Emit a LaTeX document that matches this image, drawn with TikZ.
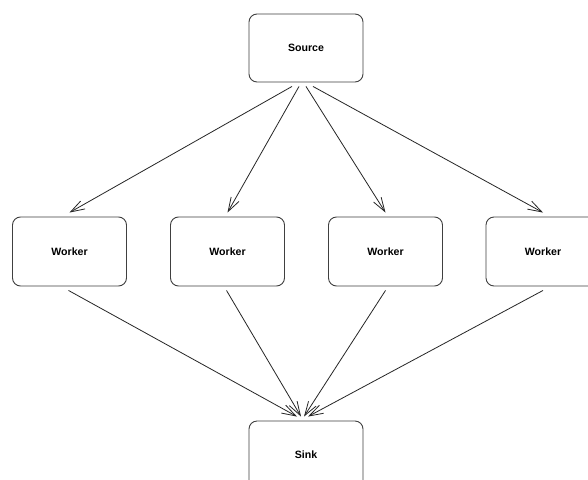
\documentclass[tikz,border=0pt]{standalone}
\usepackage{fontspec}
\setmainfont{Liberation Sans}
\usetikzlibrary{arrows.meta}
\begin{document}
\begin{tikzpicture}[x=1pt,y=-1pt,
  box/.style={draw=black!75, line width=0.9pt, rounded corners=8pt, minimum width=114pt, minimum height=68pt, inner sep=0pt, font=\fontsize{10.6}{12}\selectfont\bfseries},
  edge/.style={draw=black!85, line width=0.8pt, -{Straight Barb[length=14pt,width=9pt,line width=0.8pt]}}]
\clip (0,0) rectangle (588,479);
\fill[white] (0,0) rectangle (588,479);
\node[box] (src) at (306,48) {\raisebox{-1.5pt}{Source}};
\node[box, minimum height=69pt] (w1) at (69.5,251.5) {\raisebox{-1.5pt}{Worker}};
\node[box, minimum height=69pt] (w2) at (227.5,251.5) {\raisebox{-1.5pt}{Worker}};
\node[box, minimum height=69pt] (w3) at (385.5,251.5) {\raisebox{-1.5pt}{Worker}};
\node[box, minimum height=69pt] (w4) at (543,251.5) {\raisebox{-1.5pt}{Worker}};
\node[box] (sink) at (306,455) {\raisebox{-1.5pt}{Sink}};
\draw[edge] ([xshift=-14pt,yshift=-4pt]src.south) -- ([yshift=4pt]w1.north);
\draw[edge] ([xshift=-7pt,yshift=-4pt]src.south) -- ([yshift=4pt]w2.north);
\draw[edge] ([xshift=0pt,yshift=-4pt]src.south) -- ([yshift=4pt]w3.north);
\draw[edge] ([xshift=7pt,yshift=-4pt]src.south) -- ([yshift=4pt]w4.north);
\draw[edge] ([xshift=-1pt,yshift=-4pt]w1.south) -- ([xshift=-9pt,yshift=4pt]sink.north);
\draw[edge] ([xshift=-1pt,yshift=-4pt]w2.south) -- ([xshift=-5pt,yshift=4pt]sink.north);
\draw[edge] ([xshift=0pt,yshift=-4pt]w3.south) -- ([xshift=-2pt,yshift=4pt]sink.north);
\draw[edge] ([xshift=0pt,yshift=-4pt]w4.south) -- ([xshift=2pt,yshift=4pt]sink.north);
\end{tikzpicture}
\end{document}
